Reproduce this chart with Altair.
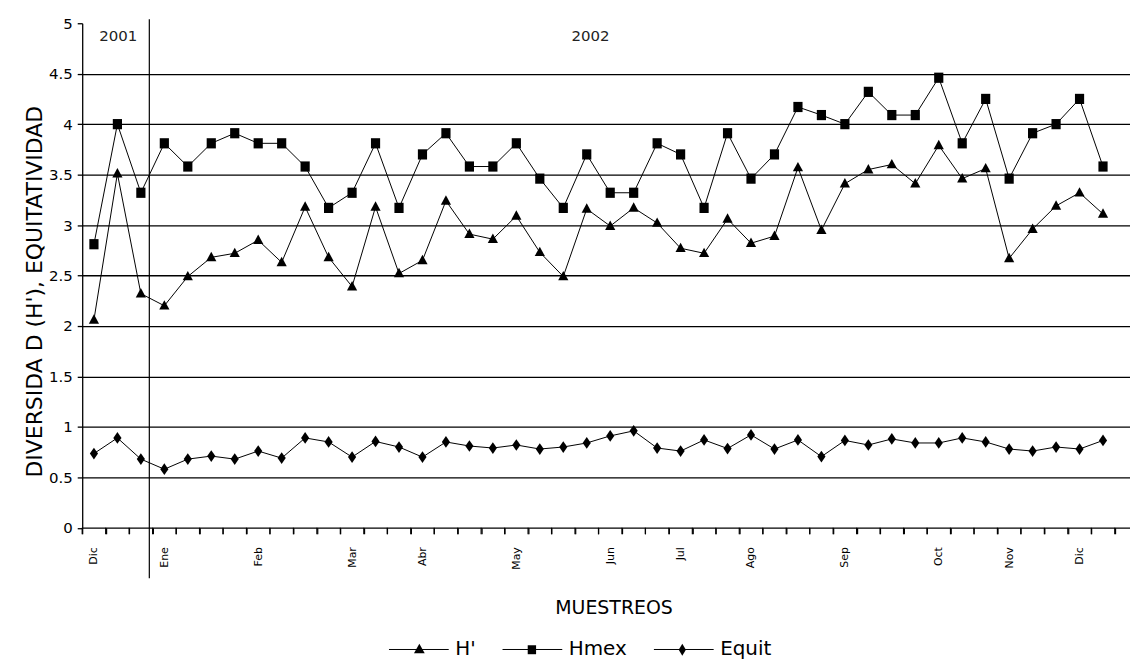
import json
import altair as alt
import pandas as pd

# ---------------- data ----------------
muestreo = list(range(44))

h_prima = [2.06, 3.51, 2.32, 2.20, 2.49, 2.68, 2.72, 2.85, 2.63, 3.18,
           2.68, 2.39, 3.18, 2.52, 2.65, 3.24, 2.91, 2.86, 3.09, 2.73,
           2.49, 3.16, 2.99, 3.17, 3.02, 2.77, 2.72, 3.06, 2.82, 2.89,
           3.57, 2.95, 3.41, 3.55, 3.60, 3.41, 3.79, 3.46, 3.56, 2.67,
           2.96, 3.19, 3.32, 3.11]

h_max = [2.81, 4.00, 3.32, 3.81, 3.58, 3.81, 3.91, 3.81, 3.81, 3.58,
         3.17, 3.32, 3.81, 3.17, 3.70, 3.91, 3.58, 3.58, 3.81, 3.46,
         3.17, 3.70, 3.32, 3.32, 3.81, 3.70, 3.17, 3.91, 3.46, 3.70,
         4.17, 4.09, 4.00, 4.32, 4.09, 4.09, 4.46, 3.81, 4.25, 3.46,
         3.91, 4.00, 4.25, 3.58]

equit = [0.735, 0.89, 0.68, 0.58, 0.68, 0.71, 0.68, 0.76, 0.69, 0.89,
         0.85, 0.70, 0.855, 0.80, 0.70, 0.85, 0.81, 0.79, 0.82, 0.78,
         0.80, 0.84, 0.91, 0.96, 0.79, 0.76, 0.87, 0.785, 0.92, 0.78,
         0.87, 0.705, 0.865, 0.82, 0.88, 0.84, 0.84, 0.89, 0.85, 0.78,
         0.76, 0.80, 0.78, 0.865]

series_names = ["H'", "Hmex", "Equit"]

mes_pos = [0, 3, 7, 11, 14, 18, 22, 25, 28, 32, 36, 39, 42]
mes_lab = ["Dic", "Ene", "Feb", "Mar", "Abr", "May", "Jun", "Jul",
           "Ago", "Sep", "Oct", "Nov", "Dic"]

# category boundaries (tick marks between samplings)
tick_pos = [k - 0.5 for k in range(45)]
tick_top = [0.0] * len(tick_pos)
tick_bottom = [-0.065] * len(tick_pos)

anio_lab = ["2001", "2002"]
anio_x = [1.04, 21.16]
anio_y = [4.87, 4.87]

sep_x = [2.36]
sep_y = [5.04]
sep_y2 = [-0.5]

y_ticks = [0, 0.5, 1, 1.5, 2, 2.5, 3, 3.5, 4, 4.5, 5]

# ---------------- tables ----------------
rows = []
for name, vals in zip(series_names, [h_prima, h_max, equit]):
    for i, v in zip(muestreo, vals):
        rows.append({"i": i, "v": v, "serie": name})
df = pd.DataFrame(rows)

df_years = pd.DataFrame({"x": anio_x, "y": anio_y, "t": anio_lab})
df_sep = pd.DataFrame({"x": sep_x, "y": sep_y, "y2": sep_y2})
df_ticks = pd.DataFrame({"tx": tick_pos, "ty": tick_top, "ty2": tick_bottom})

FONT = "DejaVu Sans"
PLOT_W = 1052
PLOT_H = 506.5
X_DOMAIN = [-0.5, 44.15]
HALF_BAND = PLOT_W / (X_DOMAIN[1] - X_DOMAIN[0]) / 2

xs = alt.Scale(domain=X_DOMAIN, nice=False, zero=False)
ys = alt.Scale(domain=[0, 5], nice=False, zero=False)

# ticks at the category boundaries; each month label sits half a band to the right
lab_at = [p - 0.5 for p in mes_pos]
pos_js = json.dumps(lab_at)
lab_js = json.dumps(mes_lab)
label_expr = (f"indexof({pos_js}, datum.value) >= 0 ? "
              f"{lab_js}[indexof({pos_js}, datum.value)] : ''")

x_axis = alt.Axis(
    values=tick_pos,
    tickCount=500,
    labelExpr=label_expr,
    tickSize=6,
    tickWidth=1.2,
    labelOffset=HALF_BAND,
    labelAngle=270,
    labelFontSize=11,
    labelFont=FONT,
    labelPadding=13,
    labelOverlap=False,
    labelFlush=False,
    labelBound=False,
    grid=False,
    title="MUESTREOS",
    titleFont=FONT,
    titleFontSize=19,
    titleFontWeight="normal",
    titleX=533.5,
    titleY=80,
    titleAlign="center",
    titleBaseline="middle",
)

y_axis = alt.Axis(
    values=y_ticks,
    tickCount=500,
    format=".1~f",
    tickSize=5,
    tickWidth=1.3,
    labelFontSize=15,
    labelFont=FONT,
    labelPadding=5,
    grid=True,
    gridColor="black",
    gridWidth=1.3,
    gridOpacity={"condition": {"test": "datum.value == 5 || datum.value == 0", "value": 0}, "value": 1},
    title="DIVERSIDA D (H'), EQUITATIVIDAD",
    titleFont=FONT,
    titleFontSize=22,
    titleFontWeight="normal",
    titleAngle=270,
    titleX=-36,
    titleY=269,
    titleAlign="center",
    titleBaseline="bottom",
)

LEG = dict(
    title=None,
    orient="none",
    direction="horizontal",
    legendX=307.5,
    legendY=598,
    symbolSize=3600,
    labelFont=FONT,
    labelFontSize=20,
    labelColor="black",
    labelOffset=6,
    columnPadding=24,
)

base = alt.Chart(df)

# lines: colour legend draws the line segments + labels
lines = base.mark_line(strokeWidth=1).encode(
    x=alt.X("i:Q", scale=xs, axis=x_axis),
    y=alt.Y("v:Q", scale=ys, axis=y_axis),
    color=alt.Color(
        "serie:N",
        sort=series_names,
        scale=alt.Scale(range=["black", "black", "black"]),
        legend=alt.Legend(symbolType="stroke", symbolStrokeWidth=1,
                          symbolStrokeColor="black", **LEG),
    ),
)

mk_tri = "M0,-1.1L-1,0.75L1,0.75Z"
mk_sq = "M-0.9,-1H0.9V1H-0.9Z"
mk_dia = "M0,-1.15L0.8,0L0,1.15L-0.8,0Z"

points = base.mark_point(filled=True, color="black", opacity=1, size=105).encode(
    x=alt.X("i:Q", scale=xs),
    y=alt.Y("v:Q", scale=ys),
    shape=alt.Shape("serie:N",
                    scale=alt.Scale(domain=series_names, range=[mk_tri, mk_sq, mk_dia]),
                    legend=None),
)

# legend markers (same layout as the line legend, labels hidden)
lg_tri = "M-0.18,0.12L0,-0.2L0.18,0.12Z"
lg_sq = "M-0.14,-0.15H0.14V0.15H-0.14Z"
lg_dia = "M0,-0.2L0.12,0L0,0.2L-0.12,0Z"

legend_markers = base.transform_filter("datum.v < -100").mark_point(
    filled=True, color="black", opacity=1
).encode(
    x=alt.X("i:Q", scale=xs),
    y=alt.Y("v:Q", scale=ys),
    shape=alt.Shape(
        "serie:N",
        scale=alt.Scale(domain=series_names, range=[lg_tri, lg_sq, lg_dia]),
        legend=alt.Legend(symbolFillColor="black", symbolOpacity=1,
                          labelOpacity=0, **LEG),
    ),
)

ticks = alt.Chart(df_ticks).mark_rule(color="black", strokeWidth=1.2, clip=False).encode(
    x=alt.X("tx:Q", scale=xs),
    y=alt.Y("ty:Q", scale=ys),
    y2="ty2:Q",
)

sep = alt.Chart(df_sep).mark_rule(color="black", strokeWidth=1.2, clip=False).encode(
    x=alt.X("x:Q", scale=xs),
    y=alt.Y("y:Q", scale=ys),
    y2="y2:Q",
)

years = alt.Chart(df_years).mark_text(font=FONT, fontSize=15, color="#222").encode(
    x=alt.X("x:Q", scale=xs),
    y=alt.Y("y:Q", scale=ys),
    text="t:N",
)

chart = (
    alt.layer(lines, points, legend_markers, sep, years, ticks)
    .resolve_scale(shape="independent")
    .properties(
        width=PLOT_W,
        height=PLOT_H,
        autosize=alt.AutoSizeParams(type="none"),
        padding={"left": 74.5, "top": 14, "right": 0, "bottom": 134},
    )
    .configure_view(stroke=None)
    .configure_axis(domainColor="black", tickColor="black", labelColor="black",
                    titleColor="black", domainWidth=1.3)
)

chart.save("out.html", embed_options={"renderer": "svg", "actions": False})
